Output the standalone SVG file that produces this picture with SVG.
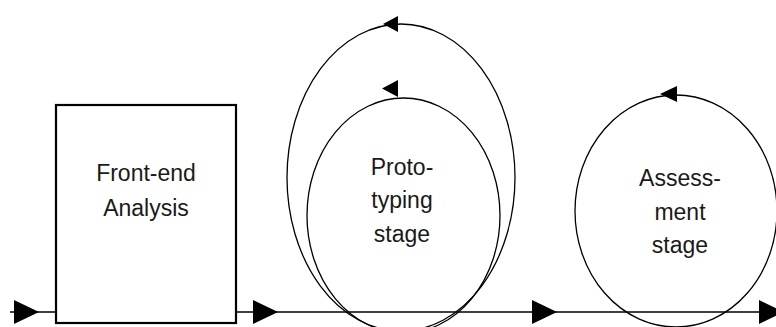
<svg xmlns="http://www.w3.org/2000/svg" width="776" height="327" viewBox="0 0 776 327">
<style>
.ln{fill:none;stroke:#000;stroke-width:1.3}
.box{fill:#fff;stroke:#000;stroke-width:2.2}
.ah{fill:#000;stroke:none}
.t{font-family:"Liberation Sans",Arial,sans-serif;font-size:23px;fill:#1a1a1a;text-anchor:middle}
</style>
<rect width="776" height="327" fill="#fff"/>
<g id="connectors">
<line class="ln" x1="10" y1="312" x2="56" y2="312"/>
<line class="ln" x1="236" y1="312" x2="776" y2="312"/>
<polygon class="ah" points="14,300 39,312 14,324"/>
<polygon class="ah" points="253,300 278,312 253,324"/>
<polygon class="ah" points="532,300 557,312 532,324"/>
<polygon class="ah" points="759,300 784,312 759,324"/>
</g>
<g id="front-end">
<rect class="box" x="56" y="105" width="180" height="218"/>
<text class="t" x="146" y="181">Front-end</text>
<text class="t" x="146" y="216">Analysis</text>
</g>
<g id="prototyping-outer">
<ellipse class="ln" cx="401" cy="177.5" rx="114" ry="153.5"/>
<polygon class="ah" points="383,24 398,16 398,32"/>
</g>
<g id="prototyping">
<ellipse class="ln" cx="403.5" cy="215.5" rx="96.5" ry="117.5"/>
<polygon class="ah" points="382,88.5 398,80 398,97"/>
<text class="t" x="402" y="175">Proto-</text>
<text class="t" x="402" y="208">typing</text>
<text class="t" x="402" y="242">stage</text>
</g>
<g id="assessment">
<ellipse class="ln" cx="676" cy="211" rx="101" ry="116"/>
<polygon class="ah" points="660,94 677,86 677,102"/>
<text class="t" x="680" y="186">Assess-</text>
<text class="t" x="680" y="220">ment</text>
<text class="t" x="680" y="253">stage</text>
</g>
</svg>
